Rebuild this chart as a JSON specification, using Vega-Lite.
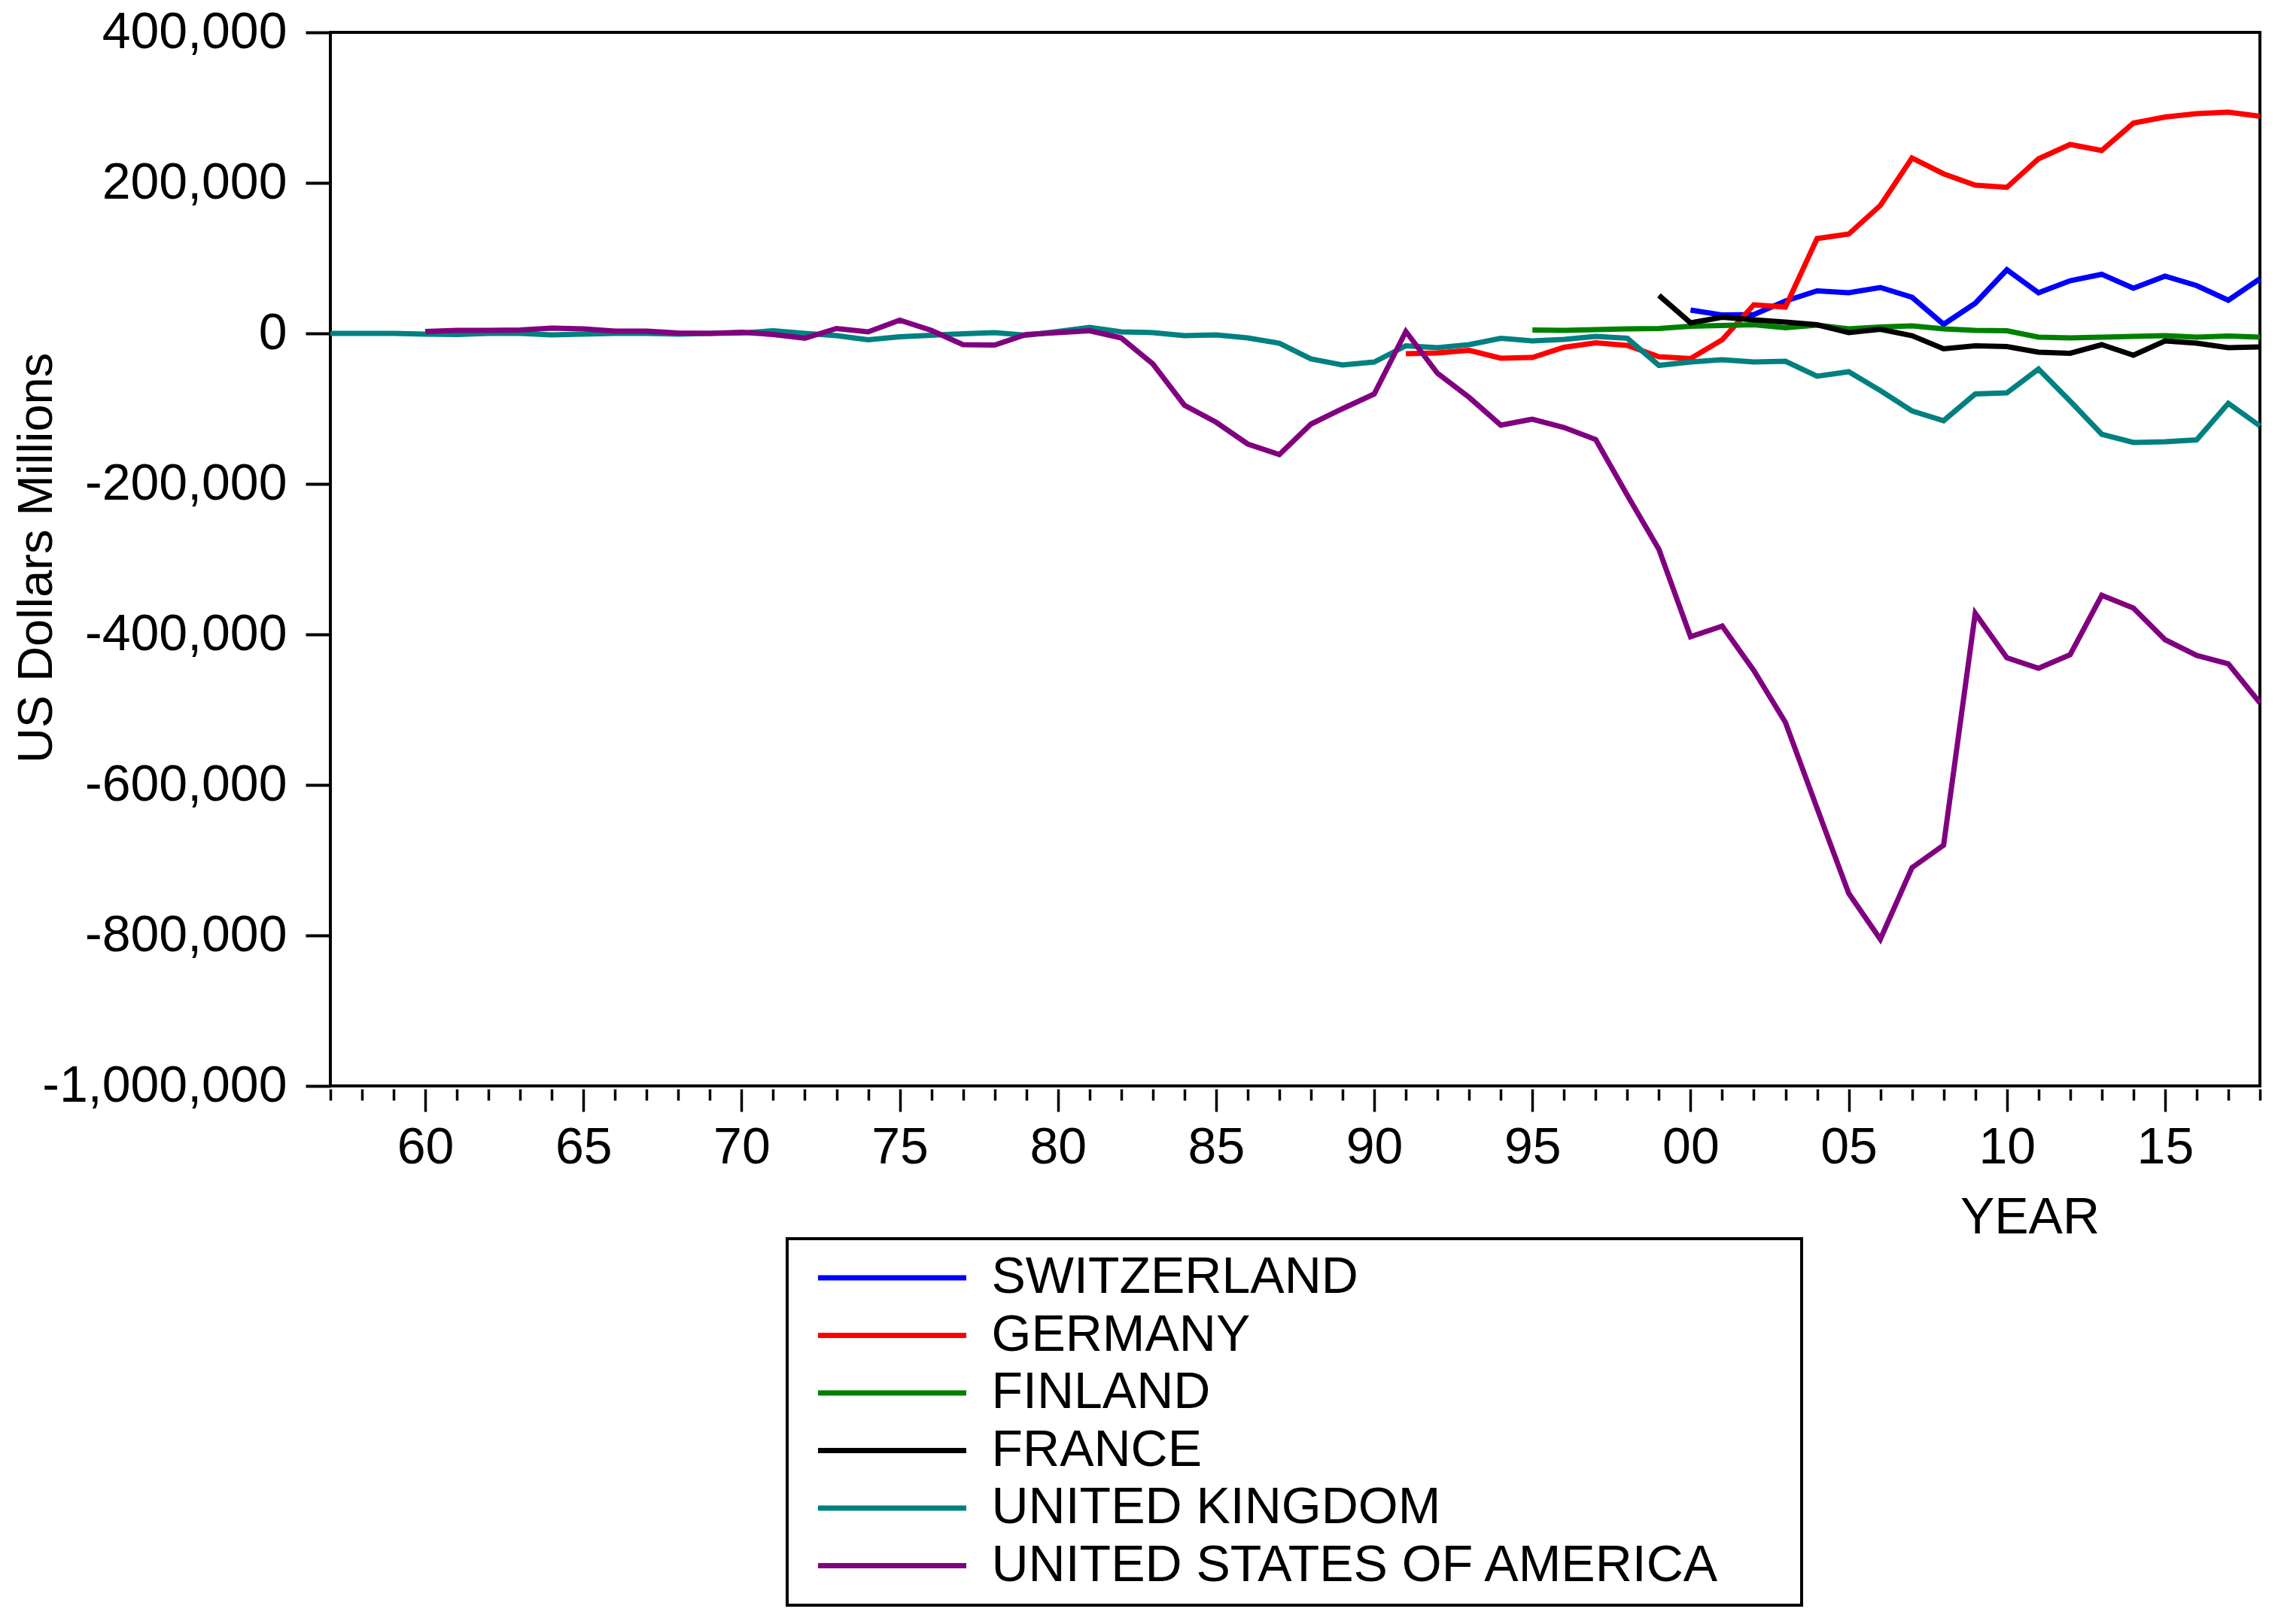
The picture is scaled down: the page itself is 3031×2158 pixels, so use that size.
{
  "$schema": "https://vega.github.io/schema/vega-lite/v6.json",
  "width": 2564,
  "height": 1400,
  "autosize": {"type": "none"},
  "padding": {"left": 439, "top": 43, "right": 28, "bottom": 715},
  "background": "white",
  "config": {
    "view": {"stroke": "black", "strokeWidth": 4},
    "font": "Liberation Sans",
    "axis": {"grid": false, "domain": false, "tickColor": "black", "labelColor": "black", "titleColor": "black", "labelFont": "Liberation Sans", "titleFont": "Liberation Sans", "titleFontWeight": "normal", "labelLimit": 1000},
    "legend": {"strokeColor": "black", "strokeWidth": 4}
  },
  "data": {"values": [
    {"country": "SWITZERLAND", "year": 2000, "value": 31000},
    {"country": "SWITZERLAND", "year": 2001, "value": 24500},
    {"country": "SWITZERLAND", "year": 2002, "value": 25000},
    {"country": "SWITZERLAND", "year": 2003, "value": 43000},
    {"country": "SWITZERLAND", "year": 2004, "value": 56500},
    {"country": "SWITZERLAND", "year": 2005, "value": 54000},
    {"country": "SWITZERLAND", "year": 2006, "value": 61000},
    {"country": "SWITZERLAND", "year": 2007, "value": 48000},
    {"country": "SWITZERLAND", "year": 2008, "value": 12000},
    {"country": "SWITZERLAND", "year": 2009, "value": 40000},
    {"country": "SWITZERLAND", "year": 2010, "value": 84500},
    {"country": "SWITZERLAND", "year": 2011, "value": 54000},
    {"country": "SWITZERLAND", "year": 2012, "value": 70000},
    {"country": "SWITZERLAND", "year": 2013, "value": 78500},
    {"country": "SWITZERLAND", "year": 2014, "value": 60000},
    {"country": "SWITZERLAND", "year": 2015, "value": 76000},
    {"country": "SWITZERLAND", "year": 2016, "value": 63500},
    {"country": "SWITZERLAND", "year": 2017, "value": 44000},
    {"country": "SWITZERLAND", "year": 2018, "value": 72500},
    {"country": "GERMANY", "year": 1991, "value": -27000},
    {"country": "GERMANY", "year": 1992, "value": -26000},
    {"country": "GERMANY", "year": 1993, "value": -22500},
    {"country": "GERMANY", "year": 1994, "value": -33000},
    {"country": "GERMANY", "year": 1995, "value": -32000},
    {"country": "GERMANY", "year": 1996, "value": -18500},
    {"country": "GERMANY", "year": 1997, "value": -12500},
    {"country": "GERMANY", "year": 1998, "value": -16000},
    {"country": "GERMANY", "year": 1999, "value": -31000},
    {"country": "GERMANY", "year": 2000, "value": -33500},
    {"country": "GERMANY", "year": 2001, "value": -8500},
    {"country": "GERMANY", "year": 2002, "value": 38000},
    {"country": "GERMANY", "year": 2003, "value": 35000},
    {"country": "GERMANY", "year": 2004, "value": 126000},
    {"country": "GERMANY", "year": 2005, "value": 132000},
    {"country": "GERMANY", "year": 2006, "value": 170000},
    {"country": "GERMANY", "year": 2007, "value": 233000},
    {"country": "GERMANY", "year": 2008, "value": 212000},
    {"country": "GERMANY", "year": 2009, "value": 197000},
    {"country": "GERMANY", "year": 2010, "value": 194000},
    {"country": "GERMANY", "year": 2011, "value": 232000},
    {"country": "GERMANY", "year": 2012, "value": 251000},
    {"country": "GERMANY", "year": 2013, "value": 243000},
    {"country": "GERMANY", "year": 2014, "value": 279500},
    {"country": "GERMANY", "year": 2015, "value": 287500},
    {"country": "GERMANY", "year": 2016, "value": 292000},
    {"country": "GERMANY", "year": 2017, "value": 294000},
    {"country": "GERMANY", "year": 2018, "value": 288500},
    {"country": "FINLAND", "year": 1995, "value": 4500},
    {"country": "FINLAND", "year": 1996, "value": 4000},
    {"country": "FINLAND", "year": 1997, "value": 5000},
    {"country": "FINLAND", "year": 1998, "value": 6000},
    {"country": "FINLAND", "year": 1999, "value": 6500},
    {"country": "FINLAND", "year": 2000, "value": 9500},
    {"country": "FINLAND", "year": 2001, "value": 10500},
    {"country": "FINLAND", "year": 2002, "value": 11500},
    {"country": "FINLAND", "year": 2003, "value": 7500},
    {"country": "FINLAND", "year": 2004, "value": 11000},
    {"country": "FINLAND", "year": 2005, "value": 6000},
    {"country": "FINLAND", "year": 2006, "value": 8500},
    {"country": "FINLAND", "year": 2007, "value": 10000},
    {"country": "FINLAND", "year": 2008, "value": 6000},
    {"country": "FINLAND", "year": 2009, "value": 4000},
    {"country": "FINLAND", "year": 2010, "value": 3500},
    {"country": "FINLAND", "year": 2011, "value": -5000},
    {"country": "FINLAND", "year": 2012, "value": -6000},
    {"country": "FINLAND", "year": 2013, "value": -5000},
    {"country": "FINLAND", "year": 2014, "value": -4000},
    {"country": "FINLAND", "year": 2015, "value": -3000},
    {"country": "FINLAND", "year": 2016, "value": -5000},
    {"country": "FINLAND", "year": 2017, "value": -3500},
    {"country": "FINLAND", "year": 2018, "value": -5000},
    {"country": "FRANCE", "year": 1999, "value": 50500},
    {"country": "FRANCE", "year": 2000, "value": 14000},
    {"country": "FRANCE", "year": 2001, "value": 21500},
    {"country": "FRANCE", "year": 2002, "value": 18000},
    {"country": "FRANCE", "year": 2003, "value": 15000},
    {"country": "FRANCE", "year": 2004, "value": 11500},
    {"country": "FRANCE", "year": 2005, "value": 1000},
    {"country": "FRANCE", "year": 2006, "value": 5500},
    {"country": "FRANCE", "year": 2007, "value": -3000},
    {"country": "FRANCE", "year": 2008, "value": -20500},
    {"country": "FRANCE", "year": 2009, "value": -16500},
    {"country": "FRANCE", "year": 2010, "value": -17500},
    {"country": "FRANCE", "year": 2011, "value": -25000},
    {"country": "FRANCE", "year": 2012, "value": -26500},
    {"country": "FRANCE", "year": 2013, "value": -15000},
    {"country": "FRANCE", "year": 2014, "value": -29000},
    {"country": "FRANCE", "year": 2015, "value": -10000},
    {"country": "FRANCE", "year": 2016, "value": -13000},
    {"country": "FRANCE", "year": 2017, "value": -19000},
    {"country": "FRANCE", "year": 2018, "value": -18000},
    {"country": "UNITED KINGDOM", "year": 1957, "value": 0},
    {"country": "UNITED KINGDOM", "year": 1958, "value": 0},
    {"country": "UNITED KINGDOM", "year": 1959, "value": 0},
    {"country": "UNITED KINGDOM", "year": 1960, "value": -1000},
    {"country": "UNITED KINGDOM", "year": 1961, "value": -1500},
    {"country": "UNITED KINGDOM", "year": 1962, "value": 0},
    {"country": "UNITED KINGDOM", "year": 1963, "value": 0},
    {"country": "UNITED KINGDOM", "year": 1964, "value": -2000},
    {"country": "UNITED KINGDOM", "year": 1965, "value": -1000},
    {"country": "UNITED KINGDOM", "year": 1966, "value": 0},
    {"country": "UNITED KINGDOM", "year": 1967, "value": 0},
    {"country": "UNITED KINGDOM", "year": 1968, "value": -1000},
    {"country": "UNITED KINGDOM", "year": 1969, "value": 0},
    {"country": "UNITED KINGDOM", "year": 1970, "value": 500},
    {"country": "UNITED KINGDOM", "year": 1971, "value": 3500},
    {"country": "UNITED KINGDOM", "year": 1972, "value": 0},
    {"country": "UNITED KINGDOM", "year": 1973, "value": -3000},
    {"country": "UNITED KINGDOM", "year": 1974, "value": -8500},
    {"country": "UNITED KINGDOM", "year": 1975, "value": -4500},
    {"country": "UNITED KINGDOM", "year": 1976, "value": -2500},
    {"country": "UNITED KINGDOM", "year": 1977, "value": -500},
    {"country": "UNITED KINGDOM", "year": 1978, "value": 1000},
    {"country": "UNITED KINGDOM", "year": 1979, "value": -2500},
    {"country": "UNITED KINGDOM", "year": 1980, "value": 2500},
    {"country": "UNITED KINGDOM", "year": 1981, "value": 8000},
    {"country": "UNITED KINGDOM", "year": 1982, "value": 2000},
    {"country": "UNITED KINGDOM", "year": 1983, "value": 1000},
    {"country": "UNITED KINGDOM", "year": 1984, "value": -3000},
    {"country": "UNITED KINGDOM", "year": 1985, "value": -2000},
    {"country": "UNITED KINGDOM", "year": 1986, "value": -6000},
    {"country": "UNITED KINGDOM", "year": 1987, "value": -13000},
    {"country": "UNITED KINGDOM", "year": 1988, "value": -34000},
    {"country": "UNITED KINGDOM", "year": 1989, "value": -42000},
    {"country": "UNITED KINGDOM", "year": 1990, "value": -38000},
    {"country": "UNITED KINGDOM", "year": 1991, "value": -16500},
    {"country": "UNITED KINGDOM", "year": 1992, "value": -19000},
    {"country": "UNITED KINGDOM", "year": 1993, "value": -15000},
    {"country": "UNITED KINGDOM", "year": 1994, "value": -6500},
    {"country": "UNITED KINGDOM", "year": 1995, "value": -10000},
    {"country": "UNITED KINGDOM", "year": 1996, "value": -8000},
    {"country": "UNITED KINGDOM", "year": 1997, "value": -4000},
    {"country": "UNITED KINGDOM", "year": 1998, "value": -6500},
    {"country": "UNITED KINGDOM", "year": 1999, "value": -42500},
    {"country": "UNITED KINGDOM", "year": 2000, "value": -38000},
    {"country": "UNITED KINGDOM", "year": 2001, "value": -35000},
    {"country": "UNITED KINGDOM", "year": 2002, "value": -38000},
    {"country": "UNITED KINGDOM", "year": 2003, "value": -37000},
    {"country": "UNITED KINGDOM", "year": 2004, "value": -57000},
    {"country": "UNITED KINGDOM", "year": 2005, "value": -51000},
    {"country": "UNITED KINGDOM", "year": 2006, "value": -76000},
    {"country": "UNITED KINGDOM", "year": 2007, "value": -103000},
    {"country": "UNITED KINGDOM", "year": 2008, "value": -116000},
    {"country": "UNITED KINGDOM", "year": 2009, "value": -80500},
    {"country": "UNITED KINGDOM", "year": 2010, "value": -79000},
    {"country": "UNITED KINGDOM", "year": 2011, "value": -47500},
    {"country": "UNITED KINGDOM", "year": 2012, "value": -90000},
    {"country": "UNITED KINGDOM", "year": 2013, "value": -134000},
    {"country": "UNITED KINGDOM", "year": 2014, "value": -145000},
    {"country": "UNITED KINGDOM", "year": 2015, "value": -144000},
    {"country": "UNITED KINGDOM", "year": 2016, "value": -141500},
    {"country": "UNITED KINGDOM", "year": 2017, "value": -93000},
    {"country": "UNITED KINGDOM", "year": 2018, "value": -123000},
    {"country": "UNITED STATES OF AMERICA", "year": 1960, "value": 2500},
    {"country": "UNITED STATES OF AMERICA", "year": 1961, "value": 4000},
    {"country": "UNITED STATES OF AMERICA", "year": 1962, "value": 4000},
    {"country": "UNITED STATES OF AMERICA", "year": 1963, "value": 4500},
    {"country": "UNITED STATES OF AMERICA", "year": 1964, "value": 7000},
    {"country": "UNITED STATES OF AMERICA", "year": 1965, "value": 6000},
    {"country": "UNITED STATES OF AMERICA", "year": 1966, "value": 3000},
    {"country": "UNITED STATES OF AMERICA", "year": 1967, "value": 3000},
    {"country": "UNITED STATES OF AMERICA", "year": 1968, "value": 500},
    {"country": "UNITED STATES OF AMERICA", "year": 1969, "value": 0},
    {"country": "UNITED STATES OF AMERICA", "year": 1970, "value": 1500},
    {"country": "UNITED STATES OF AMERICA", "year": 1971, "value": -1500},
    {"country": "UNITED STATES OF AMERICA", "year": 1972, "value": -6500},
    {"country": "UNITED STATES OF AMERICA", "year": 1973, "value": 6500},
    {"country": "UNITED STATES OF AMERICA", "year": 1974, "value": 2000},
    {"country": "UNITED STATES OF AMERICA", "year": 1975, "value": 17500},
    {"country": "UNITED STATES OF AMERICA", "year": 1976, "value": 4000},
    {"country": "UNITED STATES OF AMERICA", "year": 1977, "value": -15000},
    {"country": "UNITED STATES OF AMERICA", "year": 1978, "value": -15500},
    {"country": "UNITED STATES OF AMERICA", "year": 1979, "value": -1500},
    {"country": "UNITED STATES OF AMERICA", "year": 1980, "value": 1000},
    {"country": "UNITED STATES OF AMERICA", "year": 1981, "value": 3500},
    {"country": "UNITED STATES OF AMERICA", "year": 1982, "value": -6000},
    {"country": "UNITED STATES OF AMERICA", "year": 1983, "value": -40500},
    {"country": "UNITED STATES OF AMERICA", "year": 1984, "value": -95500},
    {"country": "UNITED STATES OF AMERICA", "year": 1985, "value": -118000},
    {"country": "UNITED STATES OF AMERICA", "year": 1986, "value": -147000},
    {"country": "UNITED STATES OF AMERICA", "year": 1987, "value": -161000},
    {"country": "UNITED STATES OF AMERICA", "year": 1988, "value": -120500},
    {"country": "UNITED STATES OF AMERICA", "year": 1989, "value": -100000},
    {"country": "UNITED STATES OF AMERICA", "year": 1990, "value": -80500},
    {"country": "UNITED STATES OF AMERICA", "year": 1991, "value": 2500},
    {"country": "UNITED STATES OF AMERICA", "year": 1992, "value": -53000},
    {"country": "UNITED STATES OF AMERICA", "year": 1993, "value": -85000},
    {"country": "UNITED STATES OF AMERICA", "year": 1994, "value": -122000},
    {"country": "UNITED STATES OF AMERICA", "year": 1995, "value": -114000},
    {"country": "UNITED STATES OF AMERICA", "year": 1996, "value": -125000},
    {"country": "UNITED STATES OF AMERICA", "year": 1997, "value": -141000},
    {"country": "UNITED STATES OF AMERICA", "year": 1998, "value": -215000},
    {"country": "UNITED STATES OF AMERICA", "year": 1999, "value": -287000},
    {"country": "UNITED STATES OF AMERICA", "year": 2000, "value": -403000},
    {"country": "UNITED STATES OF AMERICA", "year": 2001, "value": -389000},
    {"country": "UNITED STATES OF AMERICA", "year": 2002, "value": -448000},
    {"country": "UNITED STATES OF AMERICA", "year": 2003, "value": -517000},
    {"country": "UNITED STATES OF AMERICA", "year": 2004, "value": -631000},
    {"country": "UNITED STATES OF AMERICA", "year": 2005, "value": -744000},
    {"country": "UNITED STATES OF AMERICA", "year": 2006, "value": -805000},
    {"country": "UNITED STATES OF AMERICA", "year": 2007, "value": -710000},
    {"country": "UNITED STATES OF AMERICA", "year": 2008, "value": -680000},
    {"country": "UNITED STATES OF AMERICA", "year": 2009, "value": -372000},
    {"country": "UNITED STATES OF AMERICA", "year": 2010, "value": -431000},
    {"country": "UNITED STATES OF AMERICA", "year": 2011, "value": -445000},
    {"country": "UNITED STATES OF AMERICA", "year": 2012, "value": -427000},
    {"country": "UNITED STATES OF AMERICA", "year": 2013, "value": -348000},
    {"country": "UNITED STATES OF AMERICA", "year": 2014, "value": -365000},
    {"country": "UNITED STATES OF AMERICA", "year": 2015, "value": -407000},
    {"country": "UNITED STATES OF AMERICA", "year": 2016, "value": -428000},
    {"country": "UNITED STATES OF AMERICA", "year": 2017, "value": -439000},
    {"country": "UNITED STATES OF AMERICA", "year": 2018, "value": -491000}
  ]},
  "mark": {"type": "line", "strokeWidth": 7},
  "encoding": {
    "x": {
      "field": "year", "type": "quantitative",
      "scale": {"domain": [1957, 2018], "nice": false, "zero": false},
      "axis": {
        "title": "YEAR",
        "values": [1957,1958,1959,1960,1961,1962,1963,1964,1965,1966,1967,1968,1969,1970,1971,1972,1973,1974,1975,1976,1977,1978,1979,1980,1981,1982,1983,1984,1985,1986,1987,1988,1989,1990,1991,1992,1993,1994,1995,1996,1997,1998,1999,2000,2001,2002,2003,2004,2005,2006,2007,2008,2009,2010,2011,2012,2013,2014,2015,2016,2017,2018],
        "tickSize": {"condition": {"test": "datum.value % 5 === 0", "value": 30}, "value": 15},
        "tickWidth": 3.5,
        "offset": 4,
        "labelExpr": "datum.value % 5 === 0 ? substring(toString(datum.value), 2) : ''",
        "labelFontSize": 68,
        "labelPadding": 68,
        "labelBaseline": "alphabetic",
        "labelOverlap": false,
        "labelFlush": false,
        "titleFontSize": 68,
        "titleX": 2258,
        "titleY": 191,
        "titleBaseline": "alphabetic",
        "titleAlign": "center"
      }
    },
    "y": {
      "field": "value", "type": "quantitative",
      "scale": {"domain": [-1000000, 400000], "nice": false, "zero": false},
      "axis": {
        "title": "US Dollars Millions",
        "values": [-1000000, -800000, -600000, -400000, -200000, 0, 200000, 400000],
        "tickSize": 33,
        "tickWidth": 4,
        "labelExpr": "(datum.value < 0 ? '-' : '') + format(abs(datum.value), ',')",
        "labelFontSize": 68,
        "labelPadding": 25,
        "labelLimit": 1000,
        "titleFontSize": 65,
        "titleX": -357,
        "titleY": 698
      }
    },
    "color": {
      "field": "country", "type": "nominal",
      "scale": {
        "domain": ["SWITZERLAND", "GERMANY", "FINLAND", "FRANCE", "UNITED KINGDOM", "UNITED STATES OF AMERICA"],
        "range": ["#0000FF", "#FF0000", "#008000", "#000000", "#008080", "#800080"]
      },
      "legend": {
        "title": null,
        "orient": "none",
        "legendX": 607,
        "legendY": 1603,
        "direction": "vertical",
        "strokeColor": "black",
        "padding": 18,
        "symbolType": "M-5,0H5M59.7,0",
        "symbolSize": 1552,
        "symbolStrokeWidth": 7,
        "symbolOffset": 87.5,
        "labelFont": "Liberation Sans",
        "labelFontSize": 68,
        "labelColor": "black",
        "labelOffset": 98,
        "labelLimit": 3000,
        "rowPadding": 8.5
      }
    }
  }
}
